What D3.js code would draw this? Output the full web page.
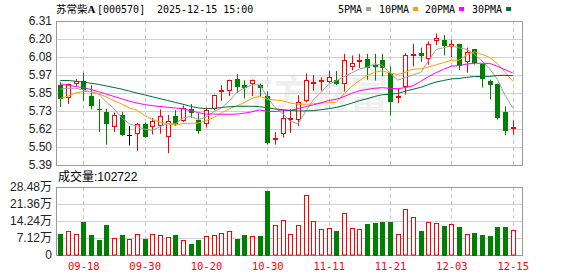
<!DOCTYPE html>
<html>
<head>
<meta charset="utf-8">
<script src="https://cdn.jsdelivr.net/npm/d3@7/dist/d3.min.js"></script>
<style>
  body { margin: 0; background: #fff; }
  svg text { font-family: "Liberation Sans", "Noto Sans CJK SC", sans-serif; }
</style>
</head>
<body>
<div id="chart-section"></div>
<script>
//Data------------------------------------------------------------------
var dates = ["09-15","09-16","09-17","09-18","09-19","09-22","09-23","09-24","09-25","09-26","09-29","09-30",
             "10-09","10-10","10-13","10-14","10-15","10-16","10-17","10-20","10-21","10-22","10-23","10-24",
             "10-27","10-28","10-29","10-30","10-31",
             "11-03","11-04","11-05","11-06","11-07","11-10","11-11","11-12","11-13","11-14","11-17","11-18",
             "11-19","11-20","11-21","11-24","11-25","11-26","11-27","11-28",
             "12-01","12-02","12-03","12-04","12-05","12-08","12-09","12-10","12-11","12-12","12-15"];

var openP  = [5.90,5.815,5.907,5.925,5.83,5.75,5.73,5.635,5.71,5.58,5.585,5.65,5.635,5.64,5.57,5.70,5.67,5.745,5.68,5.655,
              5.745,5.855,5.865,5.94,5.90,5.905,5.90,5.83,5.555,5.585,5.685,5.675,5.80,5.905,5.93,5.92,5.935,5.91,6.015,6.055,
              6.065,6.03,6.06,5.975,5.825,5.89,6.095,6.105,6.07,6.185,6.19,6.145,6.16,6.045,6.13,6.035,5.925,5.91,5.73,5.625];
var highP  = [5.92,5.91,5.94,5.98,5.90,5.81,5.75,5.725,5.73,5.64,5.66,5.66,5.69,5.745,5.71,5.74,5.77,5.78,5.72,5.755,
              5.84,5.90,5.935,5.97,5.93,5.935,5.91,5.86,5.60,5.745,5.745,5.835,5.975,5.965,5.95,5.99,5.99,6.10,6.09,6.10,
              6.10,6.10,6.10,6.02,5.88,6.105,6.165,6.14,6.18,6.23,6.22,6.19,6.165,6.14,6.13,6.035,5.935,5.91,5.765,5.675];
var lowP   = [5.76,5.78,5.895,5.80,5.745,5.60,5.52,5.60,5.575,5.515,5.48,5.565,5.585,5.59,5.465,5.64,5.665,5.69,5.59,5.63,
              5.74,5.80,5.83,5.85,5.815,5.83,5.825,5.52,5.52,5.565,5.595,5.64,5.79,5.865,5.865,5.915,5.90,5.86,5.995,6.01,
              5.935,5.93,5.955,5.705,5.785,5.84,6.02,6.05,6.03,6.155,6.09,6.08,5.995,5.98,6.03,5.885,5.81,5.68,5.58,5.585];
var closeP = [5.81,5.905,5.925,5.87,5.77,5.745,5.655,5.71,5.58,5.58,5.655,5.57,5.67,5.70,5.67,5.655,5.755,5.72,5.605,5.74,
              5.835,5.87,5.93,5.89,5.885,5.93,5.88,5.53,5.56,5.69,5.69,5.795,5.93,5.92,5.935,5.95,5.905,6.06,6.04,6.06,
              6.01,6.015,6.01,5.795,5.83,6.095,6.10,6.085,6.16,6.20,6.15,6.16,6.02,6.115,6.04,5.94,5.90,5.69,5.61,5.63];

// volume in 万
var volume = [8.75,10.0,8.75,13.9,8.33,6.25,12.5,6.94,8.33,6.67,8.75,6.67,8.75,8.33,7.5,8.33,6.25,4.58,6.25,7.92,
              8.33,9.17,10.0,6.67,8.33,7.92,7.92,26.7,12.5,14.86,8.75,12.5,25.0,14.2,10.7,11.5,10.0,17.4,11.25,10.7,
              12.9,13.6,13.75,13.75,9.0,19.4,16.1,10.0,14.0,13.6,12.1,12.8,11.7,8.6,9.2,8.3,7.9,11.7,11.7,10.27];

var ma5  = [5.875,5.88,5.88,5.87,5.856,5.843,5.793,5.75,5.692,5.654,5.636,5.619,5.611,5.635,5.653,5.653,5.69,5.70,5.681,5.695,
            5.731,5.754,5.796,5.853,5.882,5.901,5.903,5.823,5.757,5.718,5.67,5.653,5.733,5.805,5.854,5.906,5.928,5.954,5.978,6.003,
            6.015,6.037,6.027,5.978,5.932,5.949,5.966,5.981,6.054,6.128,6.139,6.151,6.138,6.129,6.097,6.055,6.003,5.937,5.836,5.754];
var ma10 = [5.815,5.83,5.85,5.86,5.86,5.845,5.825,5.80,5.78,5.755,5.740,5.706,5.681,5.664,5.654,5.645,5.655,5.656,5.658,5.674,
            5.692,5.722,5.748,5.767,5.789,5.816,5.829,5.810,5.805,5.80,5.786,5.778,5.778,5.781,5.786,5.788,5.791,5.844,5.892,5.929,
            5.961,5.983,5.991,5.978,5.968,5.982,6.002,6.004,6.016,6.030,6.044,6.059,6.060,6.092,6.113,6.097,6.077,6.038,5.983,5.926];
var ma20 = [5.908,5.90,5.892,5.884,5.873,5.858,5.843,5.828,5.813,5.798,5.786,5.776,5.769,5.764,5.759,5.754,5.749,5.737,5.725,5.7145,
            5.716,5.714,5.714,5.715,5.721,5.730,5.742,5.733,5.732,5.737,5.739,5.750,5.763,5.774,5.787,5.802,5.810,5.827,5.848,5.864,
            5.873,5.880,5.884,5.880,5.877,5.885,5.896,5.924,5.954,5.979,6.002,6.021,6.025,6.035,6.040,6.040,6.039,6.021,5.999,5.978];
var ma30 = [5.93,5.93,5.925,5.92,5.912,5.905,5.895,5.885,5.875,5.862,5.85,5.838,5.826,5.814,5.802,5.79,5.778,5.765,5.755,5.75,
            5.752,5.757,5.762,5.765,5.765,5.765,5.763,5.755,5.748,5.743,5.739,5.735,5.736,5.737,5.743,5.750,5.758,5.770,5.785,5.801,
            5.813,5.828,5.839,5.842,5.847,5.862,5.874,5.886,5.904,5.920,5.930,5.940,5.943,5.950,5.955,5.956,5.956,5.962,5.963,5.961];

var dateTicks = ["09-18","09-30","10-20","10-30","11-11","11-21","12-03","12-15"];
var priceTickLabels = ["5.39","5.50","5.62","5.73","5.85","5.97","6.08","6.20","6.31"];
var volTicks = [0, 7.12, 14.24, 21.36, 28.48];
var volTickLabels = ["0","7.12万","14.24万","21.36万","28.48万"];

var maNames = ["5PMA","10PMA","20PMA","30PMA"];
var maSeries = [ma5, ma10, ma20, ma30];
var lastVolume = "102722";
//-----------------------------------------------------------------------

//Global GraphSettings---------------------------------------------------
svgScreen = { width: 578, height: 276 };
priceBox = { left: 56, right: 522, top: 21, bottom: 165 };
volBox = { left: 56, right: 522, top: 187, bottom: 255 };

var maColors = ["#a0a0a0", "#f5a300", "#ff00ff", "#006b3c"];
var upColor = "#ff0000", downColor = "#008000";
var monoFont = "'DejaVu Sans Mono', monospace";

var xScale = d3.scalePoint().domain(dates).range([60.3, 512.7]);
var yScale = d3.scaleLinear().domain([5.39, 6.31]).range([priceBox.bottom, priceBox.top]);
var vScale = d3.scaleLinear().domain([0, 28.48]).range([volBox.bottom, volBox.top]);
//-----------------------------------------------------------------------

var svg = d3.select("#chart-section")
  .append("svg")
  .attr("width", svgScreen.width)
  .attr("height", svgScreen.height);

var cx = function(i) { return Math.round(xScale(dates[i])); };

//-----------Header-----------
var title = svg.append("text").attr("y", 13).attr("fill", "#000");
title.append("tspan").attr("x", 56)
  .style("font-family", "'Noto Sans CJK SC'").style("font-size", "10.5px").text("苏常柴");
title.append("tspan")
  .style("font-family", "'Liberation Serif'").style("font-weight", "bold").style("font-size", "11px").text("A");
title.append("tspan").attr("x", 97)
  .style("font-family", monoFont).style("font-size", "10px").text("[000570]");
title.append("tspan").attr("x", 157)
  .style("font-family", monoFont).style("font-size", "10px").text("2025-12-15 15:00");

var legendX = [338, 379, 425, 472];
maNames.forEach(function(name, k) {
  var t = svg.append("text")
    .attr("x", legendX[k]).attr("y", 13)
    .style("font-family", monoFont).style("font-size", "10px")
    .attr("fill", "#000").text(name);
  var w = t.node().getComputedTextLength();
  svg.append("rect")
    .attr("x", legendX[k] + w + 4).attr("y", 7)
    .attr("width", 5).attr("height", 4)
    .attr("fill", maColors[k]);
});

//-----------Watermark-----------
svg.append("text")
  .attr("x", 236).attr("y", 107)
  .style("font-family", "'Noto Sans CJK SC'").style("font-weight", "bold").style("font-size", "38px")
  .attr("fill", "#000").attr("opacity", 0.06)
  .text("东方财富");

//-----------Grids-----------
var drawPanel = function(box, scale, ticks, labels) {
  var g = svg.append("g");
  // horizontal grid + labels
  var yAxis = d3.axisLeft(scale)
    .tickValues(ticks)
    .tickSize(-(box.right - box.left))
    .tickPadding(4)
    .tickFormat(function(d, i) { return labels[i]; });
  var ax = g.append("g")
    .attr("transform", "translate(" + box.left + ",0)")
    .call(yAxis);
  ax.select(".domain").remove();
  ax.selectAll("line").attr("stroke", "#d0d0d0").attr("shape-rendering", "crispEdges");
  ax.selectAll("text").attr("fill", "#222").style("font-size", "12px");

  // vertical dashed lines
  dateTicks.forEach(function(d) {
    var x = Math.round(xScale(d)) + 0.5;
    g.append("line")
      .attr("x1", x).attr("x2", x)
      .attr("y1", box.top).attr("y2", box.bottom)
      .attr("stroke", "#c8c8c8")
      .attr("stroke-dasharray", "4,3");
  });

  g.append("rect")
    .attr("x", box.left + 0.5).attr("y", box.top + 0.5)
    .attr("width", box.right - box.left).attr("height", box.bottom - box.top)
    .attr("fill", "none").attr("stroke", "#999");
};

var priceTicks = d3.range(priceTickLabels.length).map(function(k) {
  return 5.39 + k * (6.31 - 5.39) / (priceTickLabels.length - 1);
});
drawPanel(priceBox, yScale, priceTicks, priceTickLabels);
drawPanel(volBox, vScale, volTicks, volTickLabels);

//-----------Candles-----------
var candles = svg.append("g").attr("class", "candles");
dates.forEach(function(d, i) {
  var c = cx(i);
  var o = openP[i], cl = closeP[i];
  var col = cl > o ? upColor : (cl < o ? downColor : "#000");

  candles.append("line")
    .attr("x1", c + 0.5).attr("x2", c + 0.5)
    .attr("y1", yScale(highP[i])).attr("y2", yScale(lowP[i]))
    .attr("stroke", col);

  var yTop = Math.round(yScale(Math.max(o, cl)));
  var yBot = Math.round(yScale(Math.min(o, cl)));
  if (cl > o) {
    candles.append("rect")
      .attr("x", c - 1.5).attr("y", yTop + 0.5)
      .attr("width", 4).attr("height", Math.max(1, yBot - yTop - 1))
      .attr("fill", "#fff").attr("stroke", col);
  } else if (cl < o) {
    candles.append("rect")
      .attr("x", c - 2).attr("y", yTop)
      .attr("width", 5).attr("height", Math.max(1, yBot - yTop))
      .attr("fill", col);
  } else {
    candles.append("line")
      .attr("x1", c - 2).attr("x2", c + 3)
      .attr("y1", yTop + 0.5).attr("y2", yTop + 0.5)
      .attr("stroke", col);
  }
});

//-----------MA lines-----------
maSeries.forEach(function(series, k) {
  var line = d3.line()
    .x(function(v, i) { return xScale(dates[i]); })
    .y(function(v) { return yScale(v); });
  svg.append("path")
    .datum(series)
    .attr("fill", "none")
    .attr("stroke", maColors[k])
    .attr("stroke-width", 1)
    .attr("d", line);
});

//-----------Volume-----------
svg.append("text")
  .attr("x", 58).attr("y", 181)
  .attr("fill", "#000").style("font-size", "12px")
  .text("成交量:" + lastVolume);

var vols = svg.append("g").attr("class", "volume");
volume.forEach(function(v, i) {
  var c = cx(i);
  var yTop = Math.round(vScale(v));
  var up = closeP[i] >= openP[i];
  if (up) {
    vols.append("rect")
      .attr("x", c - 1.5).attr("y", yTop + 0.5)
      .attr("width", 4).attr("height", volBox.bottom - yTop - 0.5)
      .attr("fill", "#fff").attr("stroke", upColor);
  } else {
    vols.append("rect")
      .attr("x", c - 2).attr("y", yTop)
      .attr("width", 5).attr("height", volBox.bottom - yTop + 1)
      .attr("fill", downColor);
  }
});

//-----------Date labels-----------
var xAxis = d3.axisBottom(xScale).tickValues(dateTicks).tickSize(0).tickPadding(8);
var xg = svg.append("g")
  .attr("transform", "translate(0," + volBox.bottom + ")")
  .call(xAxis);
xg.select(".domain").remove();
xg.selectAll("text")
  .attr("fill", upColor)
  .style("font-family", monoFont)
  .style("font-size", "10.5px");
</script>
</body>
</html>
